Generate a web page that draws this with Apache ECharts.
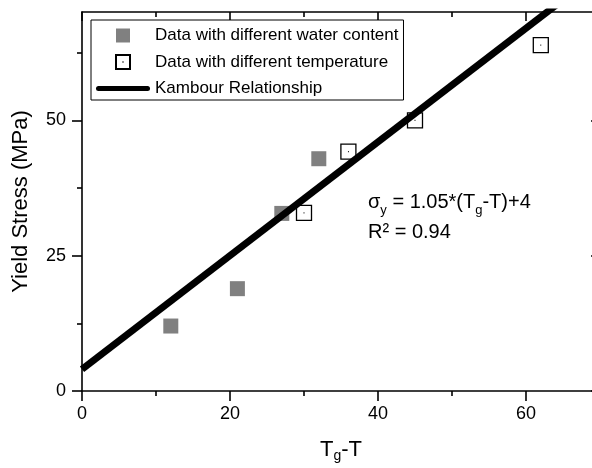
<!DOCTYPE html>
<html><head><meta charset="utf-8">
<script src="https://cdn.jsdelivr.net/npm/echarts@6/dist/echarts.min.js"></script>
<style>html,body{margin:0;padding:0;background:#fff}#c{width:592px;height:468px}</style>
</head><body><div id="c"></div>
<script>
// ---- data ----
const waterX = [12, 21, 27, 32];
const waterY = [12, 18.9, 32.8, 42.9];
const tempX = [30, 36, 45, 62];
const tempY = [32.9, 44.2, 50, 63.9];
const fitX = [0, 70];
const fitY = [4, 77.5];
const xTicks = [0, 20, 40, 60];
const xMinor = [10, 30, 50];
const yTicks = [0, 25, 50];
const yMinor = [12.5, 37.5, 62.5];
const seriesNames = ['Data with different water content', 'Data with different temperature', 'Kambour Relationship'];
const xName = 'T{sub|g}-T';
const yName = 'Yield Stress (MPa)';
const noteLines = ['σ{sub|y} = 1.05*(T{sub|g}-T)+4', 'R² = 0.94'];

const FONT = 'Liberation Sans';
const BLACK = '#000';
const sqPath = 'path://M0,0L14,0L14,14L0,14Z';
const openSq = 'path://M0,0L14,0L14,14L0,14Z M6.6,7L7.4,7';
const linePath = 'path://M2.5,0L51.5,0A2.5,2.5,0,0,1,51.5,5L2.5,5A2.5,2.5,0,0,1,2.5,0Z';

const zip = (a, b) => a.map((v, i) => [v, b[i]]);
const G = {left: 82, top: 12, width: 518, height: 379, outerBoundsMode: 'none', containLabel: false};
const lineS = {color: BLACK, width: 1.6};

function xAx(grid, pos, ticks, len, inside, showLine, extra) {
  return Object.assign({
    gridIndex: grid, type: 'value', position: pos, min: 0, max: 70, interval: 20,
    axisLine: {show: showLine, onZero: false, lineStyle: lineS},
    axisTick: {show: true, inside: inside, length: len, customValues: ticks, lineStyle: lineS},
    axisLabel: {show: false},
    splitLine: {show: false}
  }, extra || {});
}
function yAx(grid, pos, ticks, len, inside, showLine, extra) {
  return Object.assign({
    gridIndex: grid, type: 'value', position: pos, min: 0, max: 70, interval: 25,
    axisLine: {show: showLine, onZero: false, lineStyle: lineS},
    axisTick: {show: true, inside: inside, length: len, customValues: ticks, lineStyle: lineS},
    axisLabel: {show: false},
    splitLine: {show: false}
  }, extra || {});
}

const chart = echarts.init(document.getElementById('c'), null, {renderer: 'canvas'});
const option = {
  animation: false,
  backgroundColor: '#fff',
  textStyle: {fontFamily: FONT},
  grid: [Object.assign({}, G), Object.assign({}, G)],
  legend: {
    orient: 'vertical', left: 91, top: 20,
    padding: [7, 5, 3, 5], itemGap: 9.5,
    itemWidth: 54, itemHeight: 14,
    borderColor: BLACK, borderWidth: 1, backgroundColor: '#fff',
    textStyle: {fontSize: 17, color: BLACK, fontFamily: FONT},
    selectedMode: false,
    data: [
      {name: seriesNames[0], icon: sqPath},
      {name: seriesNames[1], icon: openSq},
      {name: seriesNames[2], icon: linePath}
    ]
  },
  xAxis: [
    xAx(0, 'bottom', xTicks, 10, false, true, {
      axisLabel: {show: true, customValues: xTicks, fontSize: 18, color: BLACK, margin: 14, fontFamily: FONT},
      name: xName, nameLocation: 'middle', nameGap: 46,
      nameTextStyle: {fontSize: 22, color: BLACK, fontFamily: FONT, lineHeight: 26,
        rich: {sub: {fontSize: 14, fontFamily: FONT, color: BLACK, verticalAlign: 'bottom', lineHeight: 14}}}
    }),
    xAx(0, 'top', xTicks, 9, true, true),
    xAx(1, 'bottom', xMinor, 5, false, false),
    xAx(1, 'top', xMinor, 5, true, false)
  ],
  yAxis: [
    yAx(0, 'left', yTicks, 10, false, true, {
      axisLabel: {show: true, customValues: yTicks, fontSize: 18, color: BLACK, margin: 16, fontFamily: FONT},
      name: yName, nameLocation: 'middle', nameGap: 50,
      nameTextStyle: {fontSize: 22, color: BLACK, fontFamily: FONT}
    }),
    yAx(0, 'right', yTicks, 9, true, true),
    yAx(1, 'left', yMinor, 5, false, false),
    yAx(1, 'right', yMinor, 5, true, false)
  ],
  series: [
    {
      name: seriesNames[0], type: 'scatter', xAxisIndex: 0, yAxisIndex: 0,
      symbol: 'rect', symbolSize: 15,
      itemStyle: {color: '#808080', opacity: 1},
      data: zip(waterX, waterY), z: 2
    },
    {
      name: seriesNames[1], type: 'scatter', xAxisIndex: 0, yAxisIndex: 0,
      symbol: openSq, symbolSize: 15,
      itemStyle: {color: '#fff', borderColor: BLACK, borderWidth: 1.3, opacity: 1},
      data: zip(tempX, tempY), z: 2
    },
    {
      name: seriesNames[2], type: 'line', xAxisIndex: 0, yAxisIndex: 0,
      symbol: 'none', clip: true,
      lineStyle: {color: BLACK, width: 7},
      itemStyle: {color: BLACK},
      data: zip(fitX, fitY), z: 3
    }
  ],
  graphic: [
    {
      type: 'text', left: 368, top: 187, z: 10,
      style: {
        text: noteLines.join('\n'),
        fontSize: 20, fontFamily: FONT, fill: BLACK, lineHeight: 30,
        rich: {sub: {fontSize: 13, fontFamily: FONT, fill: BLACK, verticalAlign: 'bottom', lineHeight: 13}}
      }
    }
  ]
};
chart.setOption(option);
</script>
</body></html>
